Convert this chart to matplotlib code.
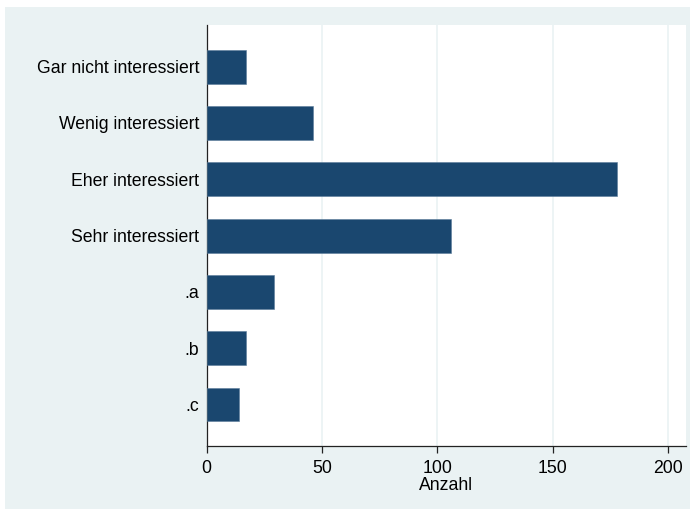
import numpy as np
import matplotlib.pyplot as plt
from matplotlib.patches import Rectangle

plt.rcParams['font.family'] = ['Liberation Sans', 'DejaVu Sans']

# data
categories = ['Gar nicht interessiert', 'Wenig interessiert', 'Eher interessiert',
              'Sehr interessiert', '.a', '.b', '.c']
counts = [17, 46, 178, 106, 29, 17, 14]
xticks = [0, 50, 100, 150, 200]

W, H = 690, 509
fig = plt.figure(figsize=(W / 100, H / 100), dpi=100)
fig.patch.set_facecolor('white')

# stata-style graph region
fig.patches.append(Rectangle((5 / W, 0), 1 - 5 / W, 1 - 7 / H,
                             transform=fig.transFigure, facecolor='#EAF2F3',
                             edgecolor='none', zorder=-1))

left, right, top, bottom = 206.7, 686, 25, 445.7
ax = fig.add_axes([left / W, 1 - bottom / H, (right - left) / W, (bottom - top) / H])
ax.set_zorder(1)
ax.set_facecolor('white')

pos = np.arange(len(categories))
ax.barh(pos, counts, height=0.6, color='#1A476F', edgecolor='#5a7c9a', linewidth=0.4,
        zorder=3)

ax.set_ylim(len(categories) - 1 + 0.73, -0.74)
ax.set_xlim(0, 207.8)
ax.set_yticks(pos)
ax.set_yticklabels(categories)
ax.set_xticks(xticks)
ax.grid(axis='x', color='#EAF2F3', linewidth=1.2, zorder=0)

for s in ['top', 'right']:
    ax.spines[s].set_visible(False)
for s in ['left', 'bottom']:
    ax.spines[s].set_color('#222222')
    ax.spines[s].set_linewidth(0.9)

ax.tick_params(axis='y', length=0, pad=5.5, labelsize=12.7, colors='black')
ax.tick_params(axis='x', length=5, width=0.9, color='#222222', pad=5, labelsize=12.7)
ax.set_xlabel('Anzahl', fontsize=12.7, labelpad=0)

fig.savefig('out.png', dpi=100)
